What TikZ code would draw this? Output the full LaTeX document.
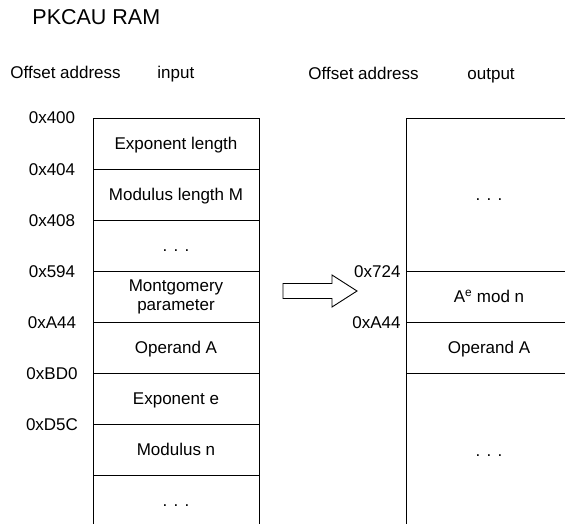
\documentclass[tikz,border=0pt]{standalone}
\usepackage{fontspec}
\setmainfont{Liberation Sans}
\usetikzlibrary{positioning}

\begin{document}
\begin{tikzpicture}[
        x={(1bp, 0bp)},
        y={(0bp, -1bp)},
        line width=0.9bp,
        every node/.style={font=\fontsize{17bp}{19bp}\selectfont},
        cell/.style={draw, minimum width=166bp, minimum height=#1,
            inner sep=0pt, outer sep=0pt, text height=12bp, text depth=0pt},
        cell/.default=51bp,
        addr/.style={inner sep=0pt, text height=12bp, text depth=0pt},
        hdr/.style={anchor=west, inner sep=0pt, text height=12bp, text depth=0pt}
    ]
        % --- Cadre de l'image ---
        \useasboundingbox (0, 0) rectangle (565, 524);
        \clip (0, 0) rectangle (565, 524);

        % --- Titre et en-tetes ---
        \node[hdr, font=\fontsize{21.5bp}{24bp}\selectfont, text height=15bp] (titre) at (32, 17) {PKCAU RAM};
        \node[hdr] (offin)  at (10, 73)  {Offset address};
        \node[hdr] (input)  at (157, 73) {input};
        \node[hdr] (offout) at (308, 74) {Offset address};
        \node[hdr] (output) at (467, 74) {output};

        % --- Memoire d'entree ---
        \node[cell] (in1) at (176, 143.5) {Exponent length};
        \node[cell, below=0pt of in1] (in2) {Modulus length M};
        \node[cell, below=0pt of in2] (in3) {. . .};
        \node[cell, below=0pt of in3, align=center, text height={}, text depth={}] (in4) {Montgomery\\parameter};
        \node[cell, below=0pt of in4] (in5) {Operand A};
        \node[cell, below=0pt of in5] (in6) {Exponent e};
        \node[cell, below=0pt of in6] (in7) {Modulus n};
        \node[cell, below=0pt of in7] (in8) {. . .};

        % --- Adresses d'entree ---
        \coordinate (acol) at (52, 0);
        \node[addr] (a400) at (in1.north -| acol) {0x400};
        \node[addr] (a404) at (in1.south -| acol) {0x404};
        \node[addr] (a408) at (in2.south -| acol) {0x408};
        \node[addr] (a594) at (in3.south -| acol) {0x594};
        \node[addr] (aA44) at (in4.south -| acol) {0xA44};
        \node[addr] (aBD0) at (in5.south -| acol) {0xBD0};
        \node[addr] (aD5C) at (in6.south -| acol) {0xD5C};

        % --- Fleche creuse ---
        \draw (283, 283.5) -- (332, 283.5) -- (332, 275) -- (357, 291)
            -- (332, 307) -- (332, 298.5) -- (283, 298.5) -- cycle;

        % --- Memoire de sortie ---
        \node[cell=153bp] (out1) at (489, 194.5) {. . .};
        \node[cell, below=0pt of out1] (out2) {A\textsuperscript{e} mod n};
        \node[cell, below=0pt of out2] (out3) {Operand A};
        \node[cell=154bp, below=0pt of out3] (out4) {. . .};

        % --- Adresses de sortie ---
        \node[addr, anchor=east] (b724) at ([xshift=-5bp]out2.north west) {0x724};
        \node[addr, anchor=east] (bA44) at ([xshift=-5bp]out3.north west) {0xA44};

    \end{tikzpicture}
\end{document}
